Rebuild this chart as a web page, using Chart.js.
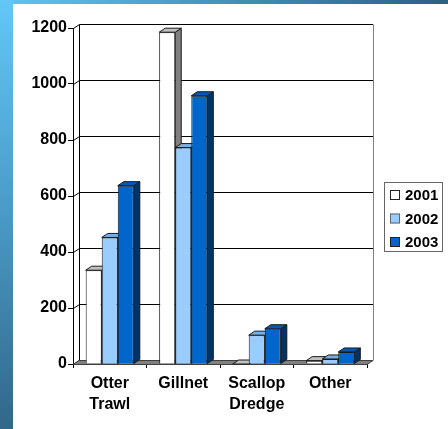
<!DOCTYPE html>
<html>
<head>
<meta charset="utf-8">
<script src="https://cdn.jsdelivr.net/npm/chart.js@4"></script>
<style>
  body { margin: 0; }
  #wrap { position: relative; width: 448px; height: 429px; overflow: hidden;
          background: linear-gradient(to right, #60c5f5, #2c5f80); }
  #side { position: absolute; left: 0; top: 0; width: 13px; height: 429px;
          background: linear-gradient(to bottom, #62c7f7, #4a9ac6 50%, #316789); }
  #panel { position: absolute; left: 13px; top: 4px; right: 0; bottom: 0; background: #fff; }
  #chart { position: absolute; left: 0; top: 0; }
</style>
</head>
<body>
<div id="wrap">
  <div id="side"></div>
  <div id="panel"></div>
  <canvas id="chart" width="448" height="429"></canvas>
</div>
<script>
// Chart data
const categories = [['Otter', 'Trawl'], 'Gillnet', ['Scallop', 'Dredge'], 'Other'];
const years = ['2001', '2002', '2003'];
const values2001 = [335, 1185, 0, 12];
const values2002 = [452, 773, 103, 18];
const values2003 = [637, 958, 126, 43];
const yTicks = [0, 200, 400, 600, 800, 1000, 1200];

// Face colours per series: front, top, side
const frontColors = ['#ffffff', '#99ccff', '#0066cc'];
const topColors = ['#c0c0c0', '#7aaee0', '#0058b8'];
const sideColors = ['#808080', '#4d6680', '#003366'];

const DX = 6, DY = 4; // depth offset of the 3D look
const FONT = { family: 'Liberation Sans, Arial, sans-serif', size: 16, weight: 'bold' };

function poly(ctx, pts, fill, stroke) {
    ctx.beginPath();
    ctx.moveTo(pts[0][0], pts[0][1]);
    for (let i = 1; i < pts.length; i++) ctx.lineTo(pts[i][0], pts[i][1]);
    ctx.closePath();
    if (fill) { ctx.fillStyle = fill; ctx.fill(); }
    if (stroke) { ctx.strokeStyle = stroke; ctx.lineWidth = 1; ctx.stroke(); }
}

// Back wall, floor and the top/side faces of every bar
const threeD = {
    id: 'threeD',
    beforeDatasetsDraw(chart) {
        const ctx = chart.ctx;
        const a = chart.chartArea;
        const y = chart.scales.y;
        ctx.save();
        ctx.lineWidth = 1;

        // back wall gridlines
        ctx.strokeStyle = '#000';
        yTicks.forEach(v => {
            const py = Math.round(y.getPixelForValue(v)) + 0.5;
            ctx.beginPath();
            ctx.moveTo(a.left + 0.5, py);
            ctx.lineTo(a.left + DX + 0.5, py - DY);
            ctx.lineTo(a.right + DX, py - DY);
            ctx.stroke();
        });
        // wall edges
        const top = Math.round(y.getPixelForValue(1200)) + 0.5;
        const bot = Math.round(y.getPixelForValue(0)) + 0.5;
        ctx.beginPath();
        ctx.moveTo(a.left + DX + 0.5, top - DY);
        ctx.lineTo(a.left + DX + 0.5, bot - DY);
        ctx.stroke();
        ctx.strokeStyle = '#808080';
        ctx.beginPath();
        ctx.moveTo(a.right + DX + 0.5, top - DY);
        ctx.lineTo(a.right + DX + 0.5, bot - DY);
        ctx.stroke();

        // floor
        poly(ctx, [[a.left, bot], [a.right, bot], [a.right + DX, bot - DY], [a.left + DX, bot - DY]], '#808080', '#404040');

        // bar tops and sides
        chart.data.datasets.forEach((ds, i) => {
            chart.getDatasetMeta(i).data.forEach(bar => {
                const l = bar.x - bar.width / 2, r = bar.x + bar.width / 2;
                const t = bar.y, b = bar.base;
                poly(ctx, [[r, t], [r + DX, t - DY], [r + DX, b - DY], [r, b]], sideColors[i], '#1a1a1a');
                poly(ctx, [[l, t], [r, t], [r + DX, t - DY], [l + DX, t - DY]], topColors[i], '#1a1a1a');
            });
        });
        ctx.restore();
    },
    afterDraw(chart) {
        // boxed legend on the right
        const ctx = chart.ctx;
        ctx.save();
        ctx.strokeStyle = '#666';
        ctx.lineWidth = 1;
        ctx.strokeRect(384.5, 182.5, 58, 69);
        ctx.font = 'bold 15px ' + FONT.family;
        ctx.textBaseline = 'middle';
        const rows = [195, 218.5, 242];
        years.forEach((yr, i) => {
            ctx.fillStyle = frontColors[i];
            ctx.fillRect(390, rows[i] - 5, 10, 10);
            ctx.strokeStyle = i === 1 ? '#666' : '#222';
            ctx.strokeRect(390.5, rows[i] - 4.5, 9, 9);
            ctx.fillStyle = '#000';
            ctx.fillText(yr, 405, rows[i] + 1);
        });
        ctx.restore();
    }
};

new Chart(document.getElementById('chart'), {
    type: 'bar',
    data: {
        labels: categories,
        datasets: [values2001, values2002, values2003].map((vals, i) => ({
            label: years[i],
            data: vals,
            backgroundColor: frontColors[i],
            borderColor: '#1a1a1a',
            borderWidth: 1,
            categoryPercentage: 0.655,
            barPercentage: 1
        }))
    },
    options: {
        responsive: false,
        animation: false,
        layout: { padding: { left: 0, right: 81, top: 28, bottom: 0 } },
        plugins: { legend: { display: false }, tooltip: { enabled: false } },
        scales: {
            x: {
                grid: { drawOnChartArea: false, tickLength: 4, color: '#000', offset: true },
                border: { display: true, color: '#000' },
                ticks: { color: '#000', padding: 5, font: { ...FONT, lineHeight: 1.3 }, maxRotation: 0 },
                afterFit(scale) { scale.height = 65; }
            },
            y: {
                min: 0,
                max: 1200,
                grid: { drawOnChartArea: false, tickLength: 5, color: '#000' },
                border: { display: true, color: '#000' },
                ticks: { color: '#000', padding: 1, stepSize: 200, font: FONT, callback: v => String(v) },
                afterFit(scale) { scale.width = 73; }
            }
        }
    },
    plugins: [threeD]
});
</script>
</body>
</html>
